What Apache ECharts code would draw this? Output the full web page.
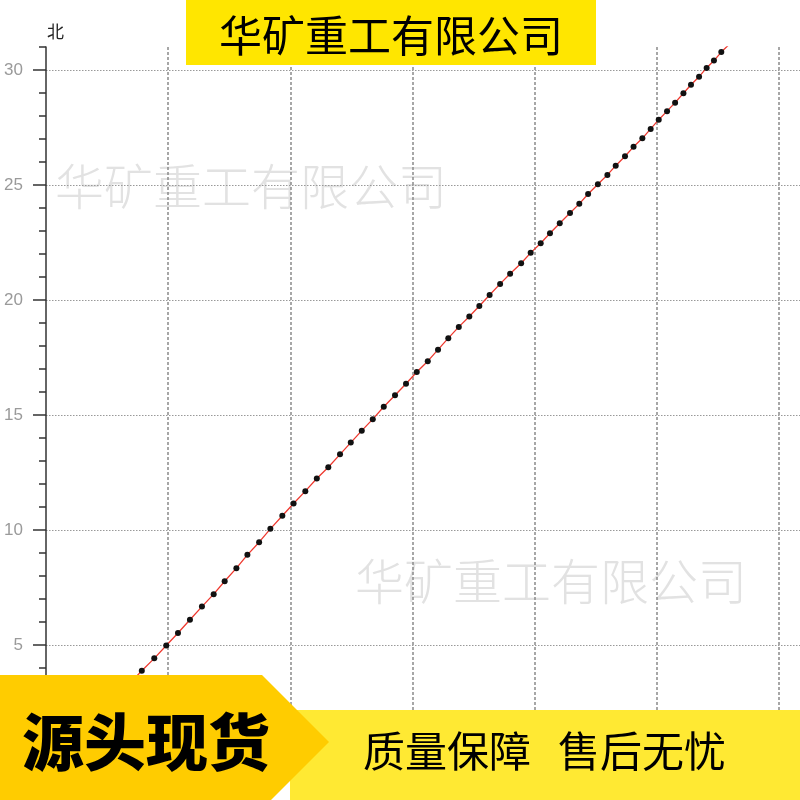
<!DOCTYPE html>
<html>
<head>
<meta charset="utf-8">
<script src="https://cdn.jsdelivr.net/npm/echarts@6/dist/echarts.min.js"></script>
<style>
  html, body { margin: 0; padding: 0; background: #fff; }
  #main { width: 800px; height: 800px; }
</style>
</head>
<body>
<div id="main"></div>
<script>
// measured track: east (x) and north (y) of each point
var east = [3.42, 3.92, 4.43, 4.92, 5.40, 5.89, 6.38, 6.86, 7.31, 7.79,
  8.24, 8.72, 9.18, 9.67, 10.13, 10.61, 11.08, 11.55, 12.03, 12.47,
  12.92, 13.37, 13.82, 14.28, 14.73, 15.17, 15.62, 16.04, 16.46, 16.89,
  17.32, 17.73, 18.15, 18.58, 18.99, 19.44, 19.83, 20.24, 20.62, 21.02,
  21.44, 21.82, 22.18, 22.58, 22.97, 23.31, 23.69, 24.04, 24.40, 24.74,
  25.07, 25.41, 25.74, 26.08, 26.39, 26.72, 27.03, 27.33, 27.63, 27.93];
var north = [3.32, 3.88, 4.42, 4.98, 5.52, 6.10, 6.67, 7.21, 7.77, 8.34,
  8.92, 9.47, 10.05, 10.62, 11.15, 11.69, 12.24, 12.73, 13.29, 13.80,
  14.32, 14.82, 15.36, 15.86, 16.36, 16.87, 17.34, 17.84, 18.34, 18.83,
  19.28, 19.74, 20.22, 20.70, 21.14, 21.60, 22.05, 22.47, 22.90, 23.34,
  23.78, 24.18, 24.61, 25.03, 25.44, 25.84, 26.25, 26.66, 27.03, 27.44,
  27.84, 28.21, 28.58, 28.99, 29.36, 29.71, 30.09, 30.41, 30.78, 31.09];
var yTickValues = [0, 5, 10, 15, 20, 25, 30];
var xMax = 30.85;   // picture is cut off at the right edge
var yMax = 31;

var company = '华矿重工有限公司';

var points = east.map(function (x, i) {
  return [x, north[i]];
});

var chart = echarts.init(document.getElementById('main'));

var option = {
  backgroundColor: '#fff',
  animation: false,
  grid: {
    left: 46,
    top: 47,
    right: 0,
    bottom: 40
  },
  xAxis: {
    type: 'value',
    min: 0,
    max: xMax,
    interval: 5,
    axisLine: { show: true, lineStyle: { color: '#333' } },
    axisTick: { show: false },
    axisLabel: { show: false },
    splitLine: {
      show: true,
      showMinLine: false,
      showMaxLine: false,
      lineStyle: { color: '#8a8a8a', type: [3, 2], width: 1.5 }
    }
  },
  yAxis: [
    {
      // small ticks every unit + the axis line
      type: 'value',
      position: 'left',
      min: 0,
      max: yMax,
      interval: 1,
      name: '北',
      nameLocation: 'end',
      nameGap: 7,
      nameTextStyle: {
        color: '#222',
        fontSize: 17,
        fontFamily: 'Noto Sans CJK SC',
        align: 'left',
        padding: [0, 0, 0, 1]
      },
      axisLine: { show: true, lineStyle: { color: '#333', width: 1.5 } },
      axisTick: { show: true, length: 7, lineStyle: { color: '#333', width: 1.5 } },
      axisLabel: { show: false },
      splitLine: { show: false }
    },
    {
      // long ticks, labels and grid lines every 5
      type: 'value',
      position: 'left',
      min: 0,
      max: yMax,
      interval: 5,
      axisLine: { show: false },
      axisTick: {
        show: true,
        length: 13,
        customValues: yTickValues,
        lineStyle: { color: '#333', width: 1.5 }
      },
      axisLabel: {
        show: true,
        customValues: yTickValues,
        margin: 23,
        color: '#9a9a9a',
        fontSize: 17,
        fontFamily: 'Liberation Sans'
      },
      splitLine: {
        show: true,
        showMinLine: false,
        lineStyle: { color: '#999', type: [1.5, 1.5], width: 1 }
      }
    }
  ],
  series: [
    {
      type: 'line',
      data: points,
      yAxisIndex: 0,
      smooth: false,
      symbol: 'circle',
      symbolSize: 6,
      clip: true,
      lineStyle: { color: '#ee3a30', width: 1.3 },
      itemStyle: { color: '#111' },
      z: 3
    }
  ],
  graphic: [
    // watermarks
    {
      type: 'text', z: 0, x: 55, y: 186,
      style: {
        text: company, fill: '#e2e2e2',
        font: '300 49px "Noto Sans CJK SC"',
        textAlign: 'left', textVerticalAlign: 'middle'
      }
    },
    {
      type: 'text', z: 0, x: 355, y: 581,
      style: {
        text: company, fill: '#e2e2e2',
        font: '300 49px "Noto Sans CJK SC"',
        textAlign: 'left', textVerticalAlign: 'middle'
      }
    },
    // top title box
    {
      type: 'rect', z: 100,
      shape: { x: 186, y: 0, width: 410, height: 65 },
      style: { fill: '#ffe600' }
    },
    {
      type: 'text', z: 101, x: 391, y: 36,
      style: {
        text: company, fill: '#000',
        font: '43px "Noto Sans CJK SC"',
        textAlign: 'center', textVerticalAlign: 'middle'
      }
    },
    // bottom banner
    {
      type: 'rect', z: 100,
      shape: { x: 290, y: 710, width: 510, height: 90 },
      style: { fill: '#ffe933' }
    },
    {
      type: 'polygon', z: 101,
      shape: { points: [[0, 675], [262, 675], [329, 742], [271, 800], [0, 800]] },
      style: { fill: '#ffcc00' }
    },
    {
      type: 'text', z: 102, x: 146, y: 742,
      style: {
        text: '源头现货', fill: '#000',
        font: '900 62px "Noto Sans CJK SC"',
        textAlign: 'center', textVerticalAlign: 'middle'
      }
    },
    {
      type: 'text', z: 102, x: 363, y: 751,
      style: {
        text: '质量保障', fill: '#000',
        font: '42px "Noto Sans CJK SC"',
        textAlign: 'left', textVerticalAlign: 'middle'
      }
    },
    {
      type: 'text', z: 102, x: 558, y: 751,
      style: {
        text: '售后无忧', fill: '#000',
        font: '42px "Noto Sans CJK SC"',
        textAlign: 'left', textVerticalAlign: 'middle'
      }
    }
  ]
};

chart.setOption(option);
</script>
</body>
</html>
